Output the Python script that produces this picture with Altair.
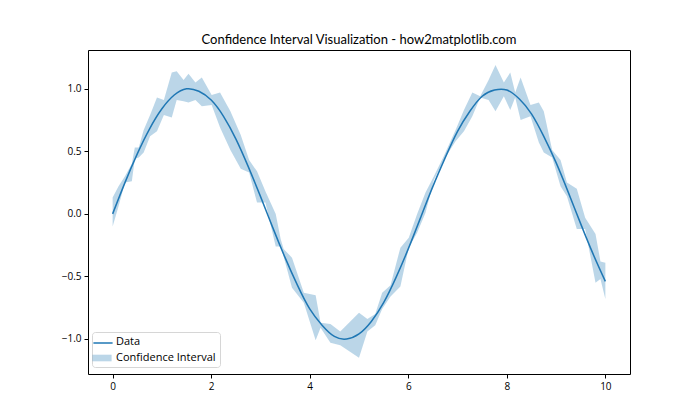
import altair as alt
import pandas as pd

# Smooth data line
line_x = [0, 0.25, 0.5, 0.75, 1.0, 1.25, 1.5, 1.75, 2.0, 2.25, 2.5, 2.75, 3.0, 3.25, 3.5,
          3.75, 4.0, 4.25, 4.5, 4.75, 5.0, 5.25, 5.5, 5.75, 6.0, 6.25, 6.5, 6.75, 7.0,
          7.25, 7.5, 7.75, 8.0, 8.25, 8.5, 8.75, 9.0, 9.25, 9.5, 9.75, 10.0]
line_y = [0.00, 0.25, 0.48, 0.68, 0.84, 0.95, 1.00, 0.98, 0.91, 0.78, 0.60, 0.38, 0.14,
          -0.11, -0.35, -0.57, -0.76, -0.89, -0.98, -1.00, -0.96, -0.86, -0.71, -0.51,
          -0.28, -0.03, 0.22, 0.45, 0.66, 0.82, 0.94, 0.99, 0.99, 0.92, 0.80, 0.62, 0.41,
          0.17, -0.08, -0.32, -0.54]

# Confidence band
band_x = [0.0, 0.12, 0.25, 0.39, 0.45, 0.53, 0.63, 0.76, 0.90, 1.04, 1.20, 1.30, 1.44,
          1.54, 1.68, 1.81, 2.01, 2.18, 2.39, 2.60, 2.77, 2.93, 3.10, 3.31, 3.41, 3.47,
          3.64, 3.88, 4.12, 4.22, 4.42, 4.62, 5.00, 5.17, 5.33, 5.47, 5.64, 5.84, 6.01,
          6.18, 6.35, 6.52, 6.72, 6.96, 7.13, 7.30, 7.46, 7.63, 7.77, 7.94, 8.07, 8.17,
          8.28, 8.48, 8.65, 8.75, 8.92, 9.09, 9.22, 9.42, 9.59, 9.80, 9.90, 10.0]
band_lo = [-0.10, 0.06, 0.25, 0.26, 0.44, 0.45, 0.49, 0.62, 0.66, 0.79, 0.77, 0.91, 0.90,
           0.89, 0.91, 0.86, 0.87, 0.69, 0.51, 0.36, 0.33, 0.09, 0.09, -0.26, -0.26, -0.34,
           -0.59, -0.71, -1.01, -0.91, -1.03, -1.05, -1.15, -0.94, -0.89, -0.76, -0.66,
           -0.58, -0.27, -0.15, 0.01, 0.27, 0.43, 0.58, 0.66, 0.78, 0.93, 0.91, 0.82, 0.94,
           0.83, 0.93, 0.75, 0.78, 0.57, 0.49, 0.45, 0.22, 0.14, -0.12, -0.12, -0.55, -0.52,
           -0.68]
band_hi = [0.13, 0.22, 0.30, 0.40, 0.53, 0.53, 0.67, 0.79, 0.93, 0.91, 1.13, 1.14, 1.07,
           1.12, 1.05, 1.09, 0.95, 0.97, 0.82, 0.63, 0.43, 0.34, 0.18, 0.00, -0.20, -0.28,
           -0.35, -0.63, -0.65, -0.87, -0.88, -0.94, -0.79, -0.84, -0.80, -0.63, -0.57,
           -0.27, -0.19, 0.00, 0.17, 0.30, 0.46, 0.67, 0.83, 0.97, 0.94, 1.07, 1.19, 1.05,
           1.13, 0.97, 1.09, 0.87, 0.89, 0.82, 0.51, 0.43, 0.25, 0.20, -0.03, -0.16, -0.38,
           -0.39]

x_ticks = [0, 2, 4, 6, 8, 10]
y_ticks = [-1.0, -0.5, 0.0, 0.5, 1.0]
series_names = ["Data", "Confidence Interval"]
title_text = "Confidence Interval Visualization - how2matplotlib.com"

FONT = "Open Sans"
TITLE_FONT = "Lato"
BLUE = "#1f77b4"

line_df = pd.DataFrame({"x": line_x, "y": line_y, "series": series_names[0]})
band_df = pd.DataFrame({"x": band_x, "lo": band_lo, "hi": band_hi, "series": series_names[1]})

xscale = alt.Scale(domain=[-0.5, 10.5], nice=False, zero=False)
yscale = alt.Scale(domain=[-1.28, 1.31], nice=False, zero=False)

xaxis = alt.Axis(values=x_ticks, title=None, grid=False, domain=False, tickColor="black",
                 tickSize=4, labelColor="black", labelFont=FONT, labelFontSize=10,
                 labelPadding=3, format="d")
yaxis = alt.Axis(values=y_ticks, title=None, grid=False, domain=False, tickColor="black",
                 tickSize=4, labelColor="black", labelFont=FONT, labelFontSize=10,
                 labelPadding=3, format=".1f")

LEG_X, LEG_Y = 4, 282
common_leg = dict(title=None, orient="none", legendX=LEG_X, legendY=LEG_Y, padding=4,
                  labelFont=FONT, labelFontSize=11, labelOffset=8, rowPadding=5,
                  symbolSize=144, labelLimit=300)

# Fill legend: carries the frame and both labels
fill_enc = alt.Fill(
    "series:N",
    scale=alt.Scale(domain=series_names, range=["rgba(0,0,0,0)", BLUE]),
    legend=alt.Legend(strokeColor="#d6d6d6", fillColor="white", cornerRadius=3,
                      labelColor="black", symbolType="M-1.6,-0.55H1.6V0.55H-1.6Z",
                      symbolOpacity=0.3, symbolStrokeWidth=0, zindex=0, **common_leg),
)

# Stroke legend: draws the line sample on top of the first entry (no label text)
stroke_enc = alt.Stroke(
    "series:N",
    scale=alt.Scale(domain=[series_names[0]], range=[BLUE]),
    legend=alt.Legend(labelColor="black", labelExpr="''", symbolType="M-1.6,0H1.6",
                      symbolStrokeWidth=1.5, zindex=1, **common_leg),
)

band = alt.Chart(band_df).mark_area(opacity=0.3, interpolate="linear").encode(
    x=alt.X("x:Q", scale=xscale, axis=xaxis),
    y=alt.Y("lo:Q", scale=yscale, axis=yaxis),
    y2="hi:Q",
    fill=fill_enc,
)

line = alt.Chart(line_df).mark_line(strokeWidth=1.5, interpolate="natural").encode(
    x=alt.X("x:Q", scale=xscale, axis=xaxis),
    y=alt.Y("y:Q", scale=yscale, axis=yaxis),
    stroke=stroke_enc,
)

chart = alt.layer(band, line).properties(
    width=542, height=324,
    background="white",
    title=alt.TitleParams(title_text, font=TITLE_FONT, fontSize=13, fontWeight="normal",
                          color="black", anchor="middle", offset=3),
    autosize=alt.AutoSizeParams(type="none"),
    padding={"left": 88, "top": 50, "right": 70, "bottom": 46},
).configure_view(stroke="black", strokeWidth=1)

chart.save("out.html", embed_options={"renderer": "svg", "actions": False})
